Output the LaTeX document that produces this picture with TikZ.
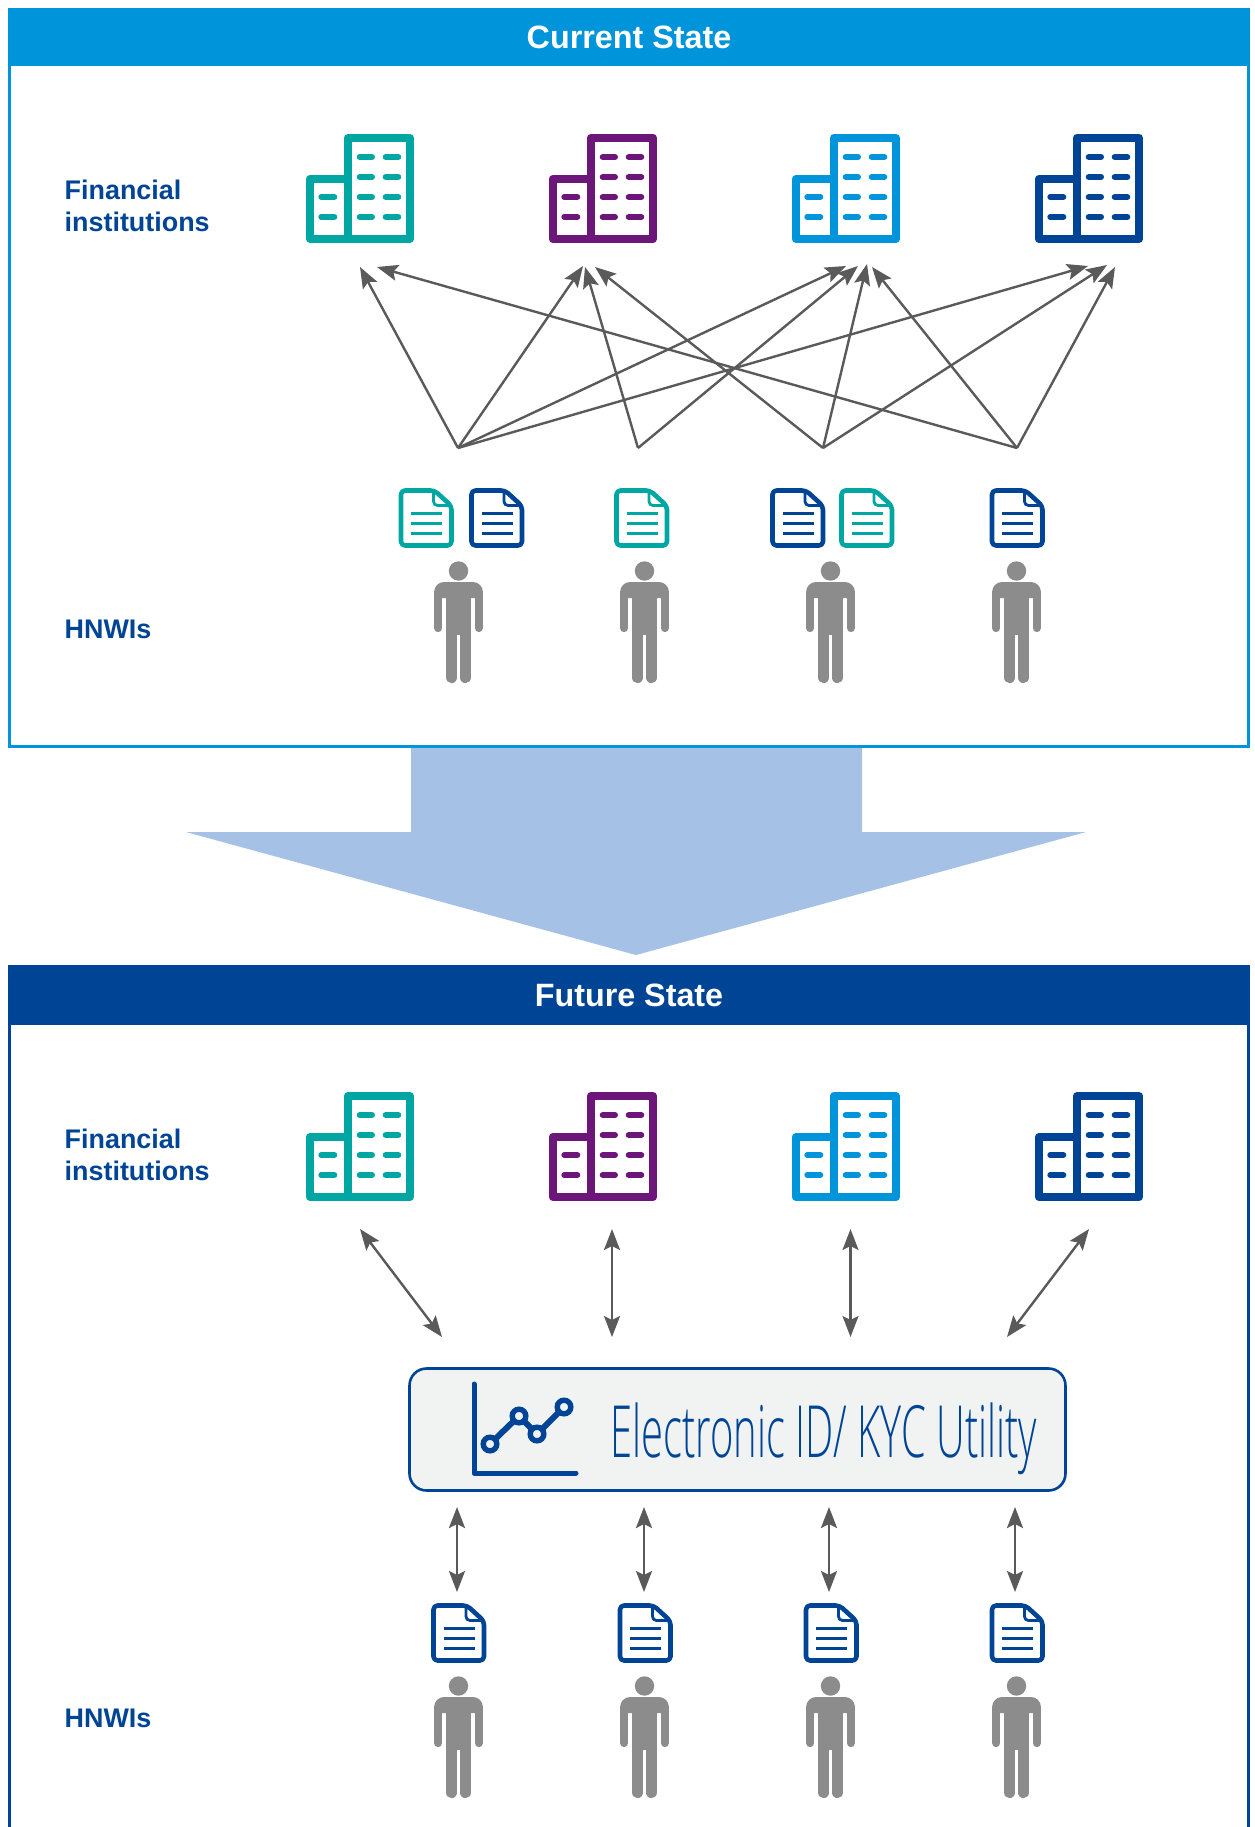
\documentclass[tikz,border=0pt]{standalone}
\usepackage{fontspec}
\usepackage{graphicx}
\setmainfont{Liberation Sans}
\newfontfamily\thinfont{Open Sans Light}
\usetikzlibrary{arrows.meta}
\definecolor{kteal}{HTML}{00A6A2}
\definecolor{kpurple}{HTML}{6D1679}
\definecolor{kblue}{HTML}{0095DB}
\definecolor{knavy}{HTML}{004595}
\definecolor{kgrey}{HTML}{5A5A5A}
\definecolor{kperson}{HTML}{8C8C8C}
\definecolor{kshaft}{HTML}{A5C1E6}
\definecolor{kbox}{HTML}{F1F3F3}
\tikzset{
  bldg/.pic={
    \draw[line width=8.3pt,line join=round,draw=#1]
      (42,45) -- (4,45) -- (4,105) -- (104,105) -- (104,4) -- (42,4) -- cycle;
    \draw[line width=8.3pt,draw=#1] (42,4) -- (42,105);
    \foreach \yy in {23,43,63,83}{
      \draw[line width=6pt,line cap=round,draw=#1] (53.7,\yy) -- (66,\yy);
      \draw[line width=6pt,line cap=round,draw=#1] (79.7,\yy) -- (92.3,\yy);
    }
    \foreach \yy in {63,83}{
      \draw[line width=6pt,line cap=round,draw=#1] (15.3,\yy) -- (28.3,\yy);
    }
  },
  docu/.pic={
    \draw[line width=4.6pt,line join=round,rounded corners=4pt,draw=#1,fill=white]
      (2.5,2.5) -- (36,2.5) -- (53,18) -- (53,57.5) -- (2.5,57.5) -- cycle;
    \draw[line width=2.8pt,rounded corners=4pt,draw=#1] (35,3) -- (35,17.5) -- (52.5,17.5);
    \foreach \yy in {25.7,35.3,45}{
      \draw[line width=3pt,draw=#1] (12.7,\yy) -- (43.7,\yy);
    }
  },
  person/.pic={
    \fill[kperson] (0,0) circle[radius=9.7pt];
    \fill[kperson] (-24.4,27) [rounded corners=10pt] -- (-24.4,11) -- (24.4,11) [sharp corners] -- (24.4,27) -- cycle;
    \fill[kperson] (-12.6,20) rectangle (12.6,64);
    \draw[kperson,line width=8.3pt,line cap=round] (-20.3,22) -- (-20.3,57);
    \draw[kperson,line width=8.3pt,line cap=round] (20.3,22) -- (20.3,57);
    \draw[kperson,line width=11.4pt,line cap=round] (-6.9,60) -- (-6.9,106.4);
    \draw[kperson,line width=11.4pt,line cap=round] (6.9,60) -- (6.9,106.4);
  },
  arrowline/.style={draw=kgrey,line width=2.4pt,-{Stealth[length=21pt,width=16pt,inset=4pt]}},
  twoway/.style={draw=kgrey,line width=2.4pt,{Stealth[length=21pt,width=16pt,inset=4pt]}-{Stealth[length=21pt,width=16pt,inset=4pt]}},
  header/.style={minimum width=1242pt,inner sep=0pt,text=white,
    font=\fontsize{32.3}{36}\selectfont\bfseries},
  rowlabel/.style={anchor=base west,inner sep=0pt,text=knavy,font=\fontsize{26.9}{32}\selectfont\bfseries},
}
\begin{document}
\begin{tikzpicture}[x=1pt,y=-1pt]
\useasboundingbox (0,0) rectangle (1254,1827);
\fill[white] (0,0) rectangle (1254,1827);
% big arrow
\fill[kshaft] (411,747) -- (862,747) -- (862,832) -- (1086,832) -- (636,955) -- (186,832) -- (411,832) -- cycle;
% current state
\draw[kblue,line width=2.8pt] (9.4,40) rectangle (1248.6,746.6);
\node[header,fill=kblue,minimum height=58pt] (hdrcurrent) at (629,37) {Current State};
\node[rowlabel] (fi1a) at (64.5,200) {Financial};
\node[rowlabel] (fi1b) at (64.5,232) {institutions};
\node[rowlabel] (hn1) at (64.5,638) {HNWIs};
\pic (a1) at (306,134) {bldg=kteal};
\pic (a2) at (549,134) {bldg=kpurple};
\pic (a3) at (792,134) {bldg=kblue};
\pic (a4) at (1035,134) {bldg=knavy};
\pic (d1) at (398.5,488) {docu=kteal};
\pic (d2) at (469,488) {docu=knavy};
\pic (d3) at (614,488) {docu=kteal};
\pic (d4) at (770,488) {docu=knavy};
\pic (d5) at (839,488) {docu=kteal};
\pic (d6) at (989.5,488) {docu=knavy};
\pic (p1) at (458.5,571) {person};
\pic (p2) at (644.5,571) {person};
\pic (p3) at (830.5,571) {person};
\pic (p4) at (1016.5,571) {person};
% current connectors
\coordinate (s1) at (458,448);
\coordinate (s2) at (638,448);
\coordinate (s3) at (823,448);
\coordinate (s4) at (1017,448);
\coordinate (t1a) at (360,267);
\coordinate (t1b) at (377,267);
\coordinate (t2a) at (583,266);
\coordinate (t2b) at (585,267);
\coordinate (t2c) at (595,267);
\coordinate (t3a) at (846,266);
\coordinate (t3b) at (858,266);
\coordinate (t3c) at (867,264);
\coordinate (t3d) at (872,267);
\coordinate (t4a) at (1088,266);
\coordinate (t4b) at (1107,265);
\coordinate (t4c) at (1115,267);
\draw[arrowline] (s1) -- (t1a);
\draw[arrowline] (s1) -- (t2a);
\draw[arrowline] (s1) -- (t3a);
\draw[arrowline] (s1) -- (t4a);
\draw[arrowline] (s2) -- (t2b);
\draw[arrowline] (s2) -- (t3b);
\draw[arrowline] (s3) -- (t2c);
\draw[arrowline] (s3) -- (t3c);
\draw[arrowline] (s3) -- (t4b);
\draw[arrowline] (s4) -- (t1b);
\draw[arrowline] (s4) -- (t3d);
\draw[arrowline] (s4) -- (t4c);
% future state
\draw[knavy,line width=2.8pt] (9.4,1020) -- (9.4,1827);
\draw[knavy,line width=2.8pt] (1248.6,1020) -- (1248.6,1827);
\node[header,fill=knavy,minimum height=59.5pt] (hdrfuture) at (629,995.2) {Future State};
\node[rowlabel] (fi2a) at (64.5,1148) {Financial};
\node[rowlabel] (fi2b) at (64.5,1180) {institutions};
\node[rowlabel] (hn2) at (64.5,1727) {HNWIs};
\pic (b1) at (306,1092) {bldg=kteal};
\pic (b2) at (549,1092) {bldg=kpurple};
\pic (b3) at (792,1092) {bldg=kblue};
\pic (b4) at (1035,1092) {bldg=knavy};
\node[draw=knavy,line width=2.6pt,fill=kbox,rounded corners=17pt,minimum width=656pt,minimum height=122pt,inner sep=0pt] (util) at (737.5,1429.5) {};
\node[anchor=base west,inner sep=0pt,text=knavy] (utiltext) at (610,1457)
  {\fontsize{72}{80}\selectfont\thinfont\resizebox{427pt}{\height}{Electronic ID/ KYC Utility}};
% chart icon
\draw[knavy,line width=5pt,line cap=round,line join=round] (474,1384) -- (474,1473) -- (576,1473);
\coordinate (c1) at (490,1444);
\coordinate (c2) at (519,1416);
\coordinate (c3) at (537,1434);
\coordinate (c4) at (564,1407);
\draw[knavy,line width=6pt] (c1) -- (c2) -- (c3) -- (c4);
\foreach \cc in {c1,c2,c3,c4}{
  \draw[knavy,line width=5.4pt,fill=kbox] (\cc) circle[radius=6.8pt];
}
% future connectors
\coordinate (u1t) at (360,1229);
\coordinate (u1b) at (442,1337);
\coordinate (u2t) at (612,1229);
\coordinate (u2b) at (612,1337);
\coordinate (u3t) at (850.5,1229);
\coordinate (u3b) at (850.5,1337);
\coordinate (u4t) at (1089,1229);
\coordinate (u4b) at (1007,1337);
\draw[twoway] (u1t) -- (u1b);
\draw[twoway] (u2t) -- (u2b);
\draw[twoway] (u3t) -- (u3b);
\draw[twoway] (u4t) -- (u4b);
\coordinate (l1t) at (457,1507);
\coordinate (l1b) at (457,1592);
\coordinate (l2t) at (644,1507);
\coordinate (l2b) at (644,1592);
\coordinate (l3t) at (829,1507);
\coordinate (l3b) at (829,1592);
\coordinate (l4t) at (1015,1507);
\coordinate (l4b) at (1015,1592);
\draw[twoway] (l1t) -- (l1b);
\draw[twoway] (l2t) -- (l2b);
\draw[twoway] (l3t) -- (l3b);
\draw[twoway] (l4t) -- (l4b);
\pic (e1) at (431,1603) {docu=knavy};
\pic (e2) at (617.5,1603) {docu=knavy};
\pic (e3) at (803.5,1603) {docu=knavy};
\pic (e4) at (989.5,1603) {docu=knavy};
\pic (q1) at (458.5,1686) {person};
\pic (q2) at (644.5,1686) {person};
\pic (q3) at (830.5,1686) {person};
\pic (q4) at (1016.5,1686) {person};
\end{tikzpicture}
\end{document}
